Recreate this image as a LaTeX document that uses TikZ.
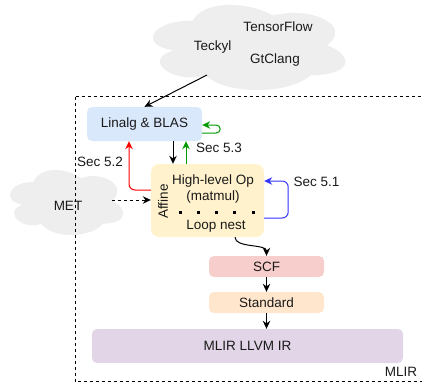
\documentclass[tikz,border=0pt]{standalone}
\usepackage{fontspec}
\setmainfont{Liberation Sans}
\usetikzlibrary{arrows.meta,calc}
\definecolor{cloudgray}{HTML}{EEEEEE}
\definecolor{bluefill}{HTML}{DAE8FC}
\definecolor{yellowfill}{HTML}{FFF2CC}
\definecolor{redfill}{HTML}{F8CECC}
\definecolor{orangefill}{HTML}{FFE6CC}
\definecolor{purplefill}{HTML}{E1D5E7}
\definecolor{myred}{HTML}{FF0000}
\definecolor{mygreen}{HTML}{009900}
\definecolor{myblue}{HTML}{3333FF}
\definecolor{txt}{HTML}{1A1A1A}
\newcommand{\mycloudshape}{%
  (0.25,0.25) .. controls (0.05,0.25) and (0,0.5) .. (0.16,0.55)
  .. controls (0,0.66) and (0.18,0.9) .. (0.31,0.8)
  .. controls (0.4,1) and (0.7,1) .. (0.8,0.8)
  .. controls (1,0.8) and (1,0.6) .. (0.875,0.5)
  .. controls (1,0.3) and (0.8,0.1) .. (0.625,0.2)
  .. controls (0.5,0.05) and (0.3,0.05) .. (0.25,0.25) -- cycle}
\begin{document}
\begin{tikzpicture}[x=1pt,y=-1pt,
  font=\fontsize{13.5}{16}\selectfont, text=txt,
  boxnode/.style={draw=none, rounded corners=5pt, inner sep=0pt},
  lbl/.style={inner sep=0pt},
  arr/.style={line width=1pt, -{Stealth[length=8pt,width=7.5pt,inset=2.6pt]}},
]
\useasboundingbox (0,0) rectangle (422,388);
\clip (0,0) rectangle (422,388);

% clouds
\begin{scope}[shift={(139,-4.3)}, x=214.8pt, y=-99.3pt]
  \fill[cloudgray] \mycloudshape;
\end{scope}
\node[lbl] (tf) at (278,27) {TensorFlow};
\node[lbl] (teckyl) at (212.5,47.5) {Teckyl};
\node[lbl] (gt) at (275,60.5) {GtClang};

\begin{scope}[shift={(1.8,162.9)}, x=126.4pt, y=-75.9pt]
  \fill[cloudgray] \mycloudshape;
\end{scope}
\node[lbl] (met) at (68,206) {MET};

% MLIR container
\draw[line width=1pt, dash pattern=on 3pt off 3pt] (75,96.5) rectangle (440,381.5);
\node[lbl] (mlir) at (401,372) {MLIR};

% boxes
\node[boxnode, fill=bluefill, minimum width=115pt, minimum height=34pt] (linalg) at (144.5,124) {Linalg \& BLAS};
\node[boxnode, fill=yellowfill, rounded corners=8pt, minimum width=113pt, minimum height=73pt] (affine) at (207.5,200.5) {};
\node[lbl] (hl) at (213,181) {High-level Op};
\node[lbl] (mm) at (213,197) {(matmul)};
\node[lbl] (ln) at (216,226) {Loop nest};
\node[lbl, rotate=90] (aff) at (163,201.5) {Affine};
\draw[line width=3pt, dash pattern=on 3pt off 15.3pt] (178.5,212) -- (258,212);

\node[boxnode, fill=redfill, minimum width=115pt, minimum height=21pt] (scf) at (266.5,266.5) {SCF};
\node[boxnode, fill=orangefill, minimum width=115pt, minimum height=21pt] (std) at (266.5,302.5) {Standard};
\node[boxnode, fill=purplefill, minimum width=311pt, minimum height=34pt] (llvm) at (247.5,346) {MLIR LLVM IR};

% connectors
\coordinate (cloudout) at (207,75);
\draw[arr] (cloudout) -- (linalg.north);

\draw[arr] ($(linalg.south)+(28.5,0)$) -- ($(affine.north)+(-34.5,0)$);
\draw[arr, mygreen] ($(affine.north)+(-21.5,0)$) -- ($(linalg.south)+(41.5,0)$);
\node[lbl] (s53) at (219,148) {Sec 5.3};

\draw[arr, mygreen, rounded corners=4pt] ($(linalg.east)+(0,9)$) -- ++(18,0) |- ($(linalg.east)+(0,1)$);

\draw[arr, myred, rounded corners=6pt] ($(affine.west)+(0,-10.5)$) -| ($(linalg.south)+(-15.5,0)$);
\node[lbl] (s52) at (100,162) {Sec 5.2};

\draw[arr, myblue, rounded corners=6pt] ($(affine.east)+(0,17.5)$) -- ++(24,0) |- ($(affine.east)+(0,-19.5)$);
\node[lbl] (s51) at (316.5,182) {Sec 5.1};

\coordinate (metout) at (112,200);
\draw[arr, dash pattern=on 3pt off 3pt] (metout) -- (metout -| affine.west);

\draw[arr] ($(affine.south)+(27.5,0)$) .. controls +(0,11) and +(0,-12) .. (scf.north);
\draw[arr] (scf.south) -- (std.north);
\draw[arr] (std.south) -- (std.south |- llvm.north);
\end{tikzpicture}
\end{document}
